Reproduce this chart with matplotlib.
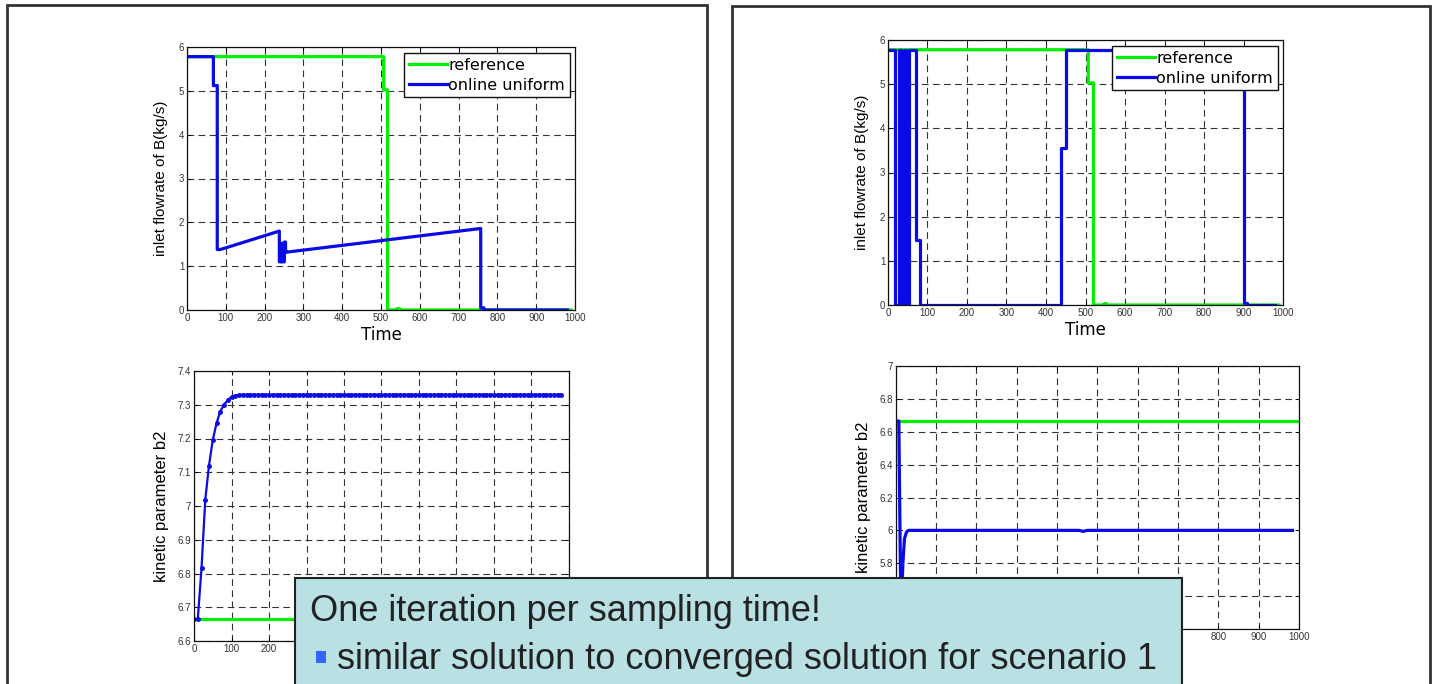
import numpy as np
import matplotlib.pyplot as plt
from matplotlib.patches import Rectangle
from matplotlib.ticker import MultipleLocator, FormatStrFormatter, FuncFormatter

plt.rcParams['font.family'] = ['Liberation Sans', 'DejaVu Sans']

# =============================================
# Data
# =============================================

# scenario 1 (left): inlet flowrate of B
t_ref_1 = [0, 507, 507, 517, 517, 538, 541, 548, 551, 990]
u_ref_1 = [5.78, 5.78, 5.02, 5.02, 0.0, 0.0, 0.03, 0.03, 0.0, 0.0]

t_onl_1 = [0, 68, 68, 78, 78, 86, 238, 238, 241, 241, 243, 243, 246, 246,
           248, 248, 251, 251, 254, 254, 257, 257, 757, 757, 765, 765, 980]
u_onl_1 = [5.78, 5.78, 5.12, 5.12, 1.38, 1.38, 1.80, 1.10, 1.10, 1.52, 1.52, 1.10, 1.10, 1.52,
           1.52, 1.10, 1.10, 1.55, 1.55, 1.33, 1.33, 1.32, 1.86, 0.05, 0.05, 0.0, 0.0]

# scenario 1 (left): kinetic parameter b2, one estimate every 10 time units
t_b2_1 = np.arange(0, 990, 10)
b2_onl_1 = [6.664, 6.664, 6.815, 7.018, 7.120, 7.195, 7.245, 7.280, 7.300,
            7.314, 7.323, 7.327, 7.329] + [7.330] * 86
t_b2_ref = [0, 1000]
b2_ref = [6.664, 6.664]

# scenario 2 (right): inlet flowrate of B
t_ref_2 = [0, 507, 507, 520, 520, 544, 547, 553, 556, 990]
u_ref_2 = [5.78, 5.78, 5.03, 5.03, 0.0, 0.0, 0.03, 0.03, 0.0, 0.0]

t_onl_2 = [0, 18, 18, 27, 27, 34, 34, 40, 40, 46, 46, 53, 53,
           71, 71, 81, 81, 437, 437, 451, 451, 900, 900, 908, 908, 980]
u_onl_2 = [5.78, 5.78, 0.0, 0.0, 5.78, 5.78, 0.0, 0.0, 5.78, 5.78, 0.0, 0.0, 5.78,
           5.78, 1.48, 1.48, 0.0, 0.0, 3.55, 3.55, 5.78, 5.78, 0.05, 0.05, 0.0, 0.0]

# scenario 2 (right): kinetic parameter b2
t_b2_2 = [0, 8, 10, 12, 14, 16, 18, 22, 27, 32, 60, 455, 465, 475, 984]
b2_onl_2 = [6.665, 6.665, 6.2, 5.75, 5.55, 5.65, 5.80, 5.95, 5.99, 6.0, 6.0, 6.0, 5.994, 6.0, 6.0]

GREEN = '#00f000'
BLUE = '#0a0ae6'
W, H = 1434, 684

# =============================================
# Figure
# =============================================

fig = plt.figure(figsize=(W / 100, H / 100), dpi=100)


def px_axes(x0, y0, x1, y1):
    return fig.add_axes([x0 / W, 1 - y1 / H, (x1 - x0) / W, (y1 - y0) / H])


def style(ax, ylim, ystep, shown=None):
    ax.set_xlim(0, 1000)
    ax.set_ylim(*ylim)
    ax.xaxis.set_major_locator(MultipleLocator(100))
    if shown is not None:
        # labels under the callout box are not visible on the slide
        ax.xaxis.set_major_formatter(FuncFormatter(lambda v, p: '%g' % v if shown(v) else ''))
    ax.yaxis.set_major_locator(MultipleLocator(ystep))
    ax.yaxis.set_major_formatter(FormatStrFormatter('%g'))
    ax.grid(True, color='#333333', linestyle=(0, (6, 4)), linewidth=0.8)
    ax.tick_params(direction='in', length=3, width=0.6, top=True, right=True,
                   labelsize=7, labelcolor='#333333', pad=2)
    for s in ax.spines.values():
        s.set_linewidth(0.9)
        s.set_color('#111111')


def legend(ax, dx, dy, w, h):
    ax.legend(['reference', 'online uniform'], loc='upper right',
              bbox_to_anchor=(1 - dx / w, 1 - dy / h), borderaxespad=0,
              fancybox=False, framealpha=1, edgecolor='#111111',
              prop={'family': 'DejaVu Sans', 'size': 11.5},
              handlelength=2.4, handletextpad=0.1, borderpad=0.3,
              labelspacing=0.3)


# panel frames
fig.patches.append(Rectangle((7 / W, -0.02), 700 / W, 1 - 5 / H + 0.02, transform=fig.transFigure,
                             fill=False, edgecolor='#333333', linewidth=2, zorder=1))
fig.patches.append(Rectangle((732 / W, -0.02), 698 / W, 1 - 6 / H + 0.02, transform=fig.transFigure,
                             fill=False, edgecolor='#333333', linewidth=2, zorder=1))

# top left
ax1 = px_axes(187, 47, 575, 310)
ax1.plot(t_ref_1, u_ref_1, color=GREEN, lw=2.3)
ax1.plot(t_onl_1, u_onl_1, color=BLUE, lw=2.3)
style(ax1, (0, 6), 1)
ax1.set_ylabel('inlet flowrate of B(kg/s)', fontsize=11, labelpad=8)
ax1.set_xlabel('Time', fontsize=12, family='DejaVu Sans', labelpad=2)
legend(ax1, 5, 6, 388, 263)

# bottom left
ax2 = px_axes(194, 371, 569, 641)
ax2.plot(t_b2_ref, b2_ref, color=GREEN, lw=2.3)
ax2.plot(t_b2_1, b2_onl_1, color=BLUE, lw=1.6, marker='.', markersize=5)
style(ax2, (6.6, 7.4), 0.1, shown=lambda v: v <= 250)
ax2.set_ylabel('kinetic parameter b2', fontsize=12, labelpad=6)

# top right
ax3 = px_axes(888, 40, 1283, 305)
ax3.plot(t_ref_2, u_ref_2, color=GREEN, lw=2.3)
ax3.plot(t_onl_2, u_onl_2, color=BLUE, lw=2.3)
style(ax3, (0, 6), 1)
ax3.set_ylabel('inlet flowrate of B(kg/s)', fontsize=11, labelpad=8)
ax3.set_xlabel('Time', fontsize=12, family='DejaVu Sans', labelpad=2)
legend(ax3, 5, 6, 395, 265)

# bottom right
ax4 = px_axes(895.6, 366, 1299, 629)
ax4.plot(t_b2_ref, b2_ref, color=GREEN, lw=2.3)
ax4.plot(t_b2_2, b2_onl_2, color=BLUE, lw=2.3)
style(ax4, (5.4, 7.0), 0.2, shown=lambda v: v >= 750)
ax4.set_ylabel('kinetic parameter b2', fontsize=12, labelpad=6)

# callout box
fig.patches.append(Rectangle((295 / W, -0.02), (1182 - 295) / W, (H - 578) / H + 0.02,
                             transform=fig.transFigure, facecolor='#b9e0e3',
                             edgecolor='#222222', linewidth=1.5, zorder=20))
fig.patches.append(Rectangle((316 / W, 1 - 663 / H), 10 / W, 12 / H, transform=fig.transFigure,
                             facecolor='#3366ff', edgecolor='none', zorder=21))
fig.text(310 / W, 1 - 621 / H, 'One iteration per sampling time!', fontsize=26,
         color='#222222', va='baseline', zorder=22)
fig.text(337 / W, 1 - 669 / H, 'similar solution to converged solution for scenario 1',
         fontsize=26, color='#222222', va='baseline', zorder=22)

fig.savefig('out.png', dpi=100)
